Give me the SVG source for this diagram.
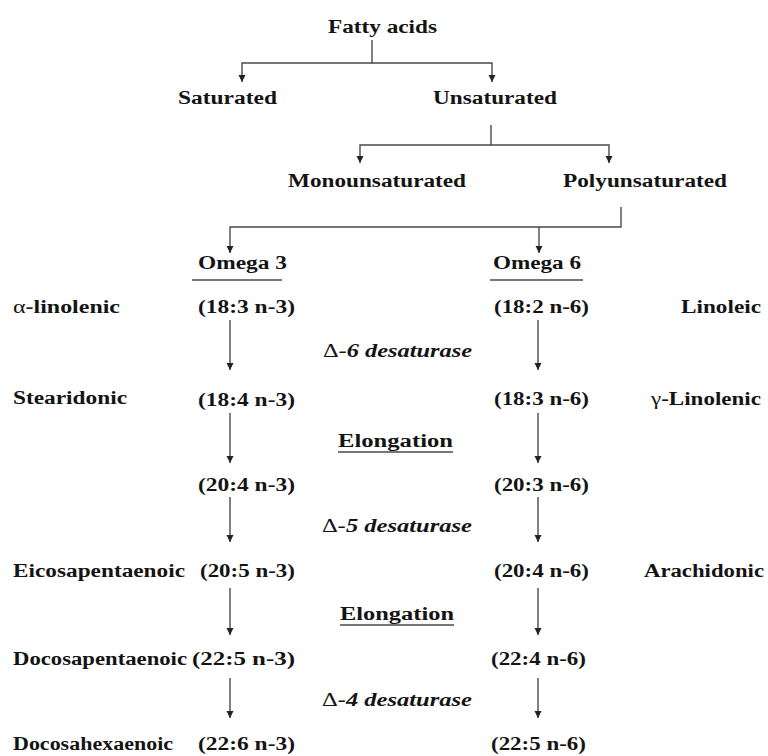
<svg xmlns="http://www.w3.org/2000/svg" width="768" height="756" viewBox="0 0 768 756">
<style>
text{font-family:"Liberation Serif","Times New Roman",serif;font-size:18px;font-weight:bold;fill:#141414}
.it{font-style:italic}
.g{font-style:normal;font-weight:normal}
.c{fill:none;stroke:#4a4a4a;stroke-width:1.4}
.u{stroke:#4a4a4a;stroke-width:1.4}
</style>
<defs>
<marker id="ah" markerUnits="userSpaceOnUse" markerWidth="8" markerHeight="8" refX="7" refY="3.5" orient="auto">
<path d="M0,0 L7,3.5 L0,7 z" fill="#222"/>
</marker>
</defs>
<rect width="768" height="756" fill="#fff"/>
<g id="connectors">
<path class="c" d="M372,40 V63 H242 V82" marker-end="url(#ah)"/>
<path class="c" d="M372,63 H492 V82" marker-end="url(#ah)"/>
<path class="c" d="M491,125 V145 H360 V163" marker-end="url(#ah)"/>
<path class="c" d="M491,145 H609 V163" marker-end="url(#ah)"/>
<path class="c" d="M621,207 V227 H230 V253" marker-end="url(#ah)"/>
<path class="c" d="M539,227 V253" marker-end="url(#ah)"/>
<path class="c" d="M230,320 V370" marker-end="url(#ah)"/>
<path class="c" d="M230,413 V463" marker-end="url(#ah)"/>
<path class="c" d="M230,497 V542" marker-end="url(#ah)"/>
<path class="c" d="M230,588 V635" marker-end="url(#ah)"/>
<path class="c" d="M230,678 V718" marker-end="url(#ah)"/>
<path class="c" d="M538,320 V370" marker-end="url(#ah)"/>
<path class="c" d="M538,413 V463" marker-end="url(#ah)"/>
<path class="c" d="M538,497 V542" marker-end="url(#ah)"/>
<path class="c" d="M538,588 V635" marker-end="url(#ah)"/>
<path class="c" d="M538,678 V718" marker-end="url(#ah)"/>
</g>
<g id="fatty-acids"><text x="328" y="33" textLength="109" lengthAdjust="spacingAndGlyphs">Fatty acids</text></g>
<g id="saturated"><text x="178" y="104" textLength="99" lengthAdjust="spacingAndGlyphs">Saturated</text></g>
<g id="unsaturated"><text x="433" y="104" textLength="124" lengthAdjust="spacingAndGlyphs">Unsaturated</text></g>
<g id="monounsaturated"><text x="288" y="187" textLength="178" lengthAdjust="spacingAndGlyphs">Monounsaturated</text></g>
<g id="polyunsaturated"><text x="563" y="187" textLength="164" lengthAdjust="spacingAndGlyphs">Polyunsaturated</text></g>
<g id="omega3"><text x="198" y="269" textLength="89" lengthAdjust="spacingAndGlyphs">Omega 3</text><line class="u" x1="192" y1="280" x2="282" y2="280"/></g>
<g id="omega6"><text x="493" y="269" textLength="88" lengthAdjust="spacingAndGlyphs">Omega 6</text><line class="u" x1="490" y1="280" x2="583" y2="280"/></g>
<g id="n3-18-3"><text x="13" y="313" textLength="107" lengthAdjust="spacingAndGlyphs"><tspan class="g">α</tspan>-linolenic</text><text x="198" y="313" textLength="97" lengthAdjust="spacingAndGlyphs">(18:3 n-3)</text></g>
<g id="n6-18-2"><text x="494" y="313" textLength="95" lengthAdjust="spacingAndGlyphs">(18:2 n-6)</text><text x="681" y="313" textLength="80" lengthAdjust="spacingAndGlyphs">Linoleic</text></g>
<g id="d6"><text class="it" x="323" y="357" textLength="149" lengthAdjust="spacingAndGlyphs"><tspan class="g">Δ</tspan>-6 desaturase</text></g>
<g id="n3-18-4"><text x="13" y="404" textLength="114" lengthAdjust="spacingAndGlyphs">Stearidonic</text><text x="198" y="406" textLength="97" lengthAdjust="spacingAndGlyphs">(18:4 n-3)</text></g>
<g id="n6-18-3"><text x="494" y="405" textLength="95" lengthAdjust="spacingAndGlyphs">(18:3 n-6)</text><text x="651" y="405" textLength="110" lengthAdjust="spacingAndGlyphs"><tspan class="g">γ</tspan>-Linolenic</text></g>
<g id="elong1"><text x="338" y="447" textLength="115" lengthAdjust="spacingAndGlyphs">Elongation</text><line class="u" x1="338" y1="452" x2="453" y2="452"/></g>
<g id="n3-20-4"><text x="198" y="491" textLength="97" lengthAdjust="spacingAndGlyphs">(20:4 n-3)</text></g>
<g id="n6-20-3"><text x="494" y="491" textLength="95" lengthAdjust="spacingAndGlyphs">(20:3 n-6)</text></g>
<g id="d5"><text class="it" x="322" y="532" textLength="150" lengthAdjust="spacingAndGlyphs"><tspan class="g">Δ</tspan>-5 desaturase</text></g>
<g id="n3-20-5"><text x="13" y="577" textLength="172" lengthAdjust="spacingAndGlyphs">Eicosapentaenoic</text><text x="200" y="577" textLength="95" lengthAdjust="spacingAndGlyphs">(20:5 n-3)</text></g>
<g id="n6-20-4"><text x="494" y="577" textLength="95" lengthAdjust="spacingAndGlyphs">(20:4 n-6)</text><text x="644" y="577" textLength="120" lengthAdjust="spacingAndGlyphs">Arachidonic</text></g>
<g id="elong2"><text x="340" y="620" textLength="114" lengthAdjust="spacingAndGlyphs">Elongation</text><line class="u" x1="340" y1="625" x2="454" y2="625"/></g>
<g id="n3-22-5"><text x="13" y="665" textLength="174" lengthAdjust="spacingAndGlyphs">Docosapentaenoic</text><text x="192" y="665" textLength="103" lengthAdjust="spacingAndGlyphs">(22:5 n-3)</text></g>
<g id="n6-22-4"><text x="491" y="665" textLength="95" lengthAdjust="spacingAndGlyphs">(22:4 n-6)</text></g>
<g id="d4"><text class="it" x="322" y="706" textLength="150" lengthAdjust="spacingAndGlyphs"><tspan class="g">Δ</tspan>-4 desaturase</text></g>
<g id="n3-22-6"><text x="13" y="750" textLength="160" lengthAdjust="spacingAndGlyphs">Docosahexaenoic</text><text x="198" y="750" textLength="97" lengthAdjust="spacingAndGlyphs">(22:6 n-3)</text></g>
<g id="n6-22-5"><text x="491" y="750" textLength="95" lengthAdjust="spacingAndGlyphs">(22:5 n-6)</text></g>
</svg>
